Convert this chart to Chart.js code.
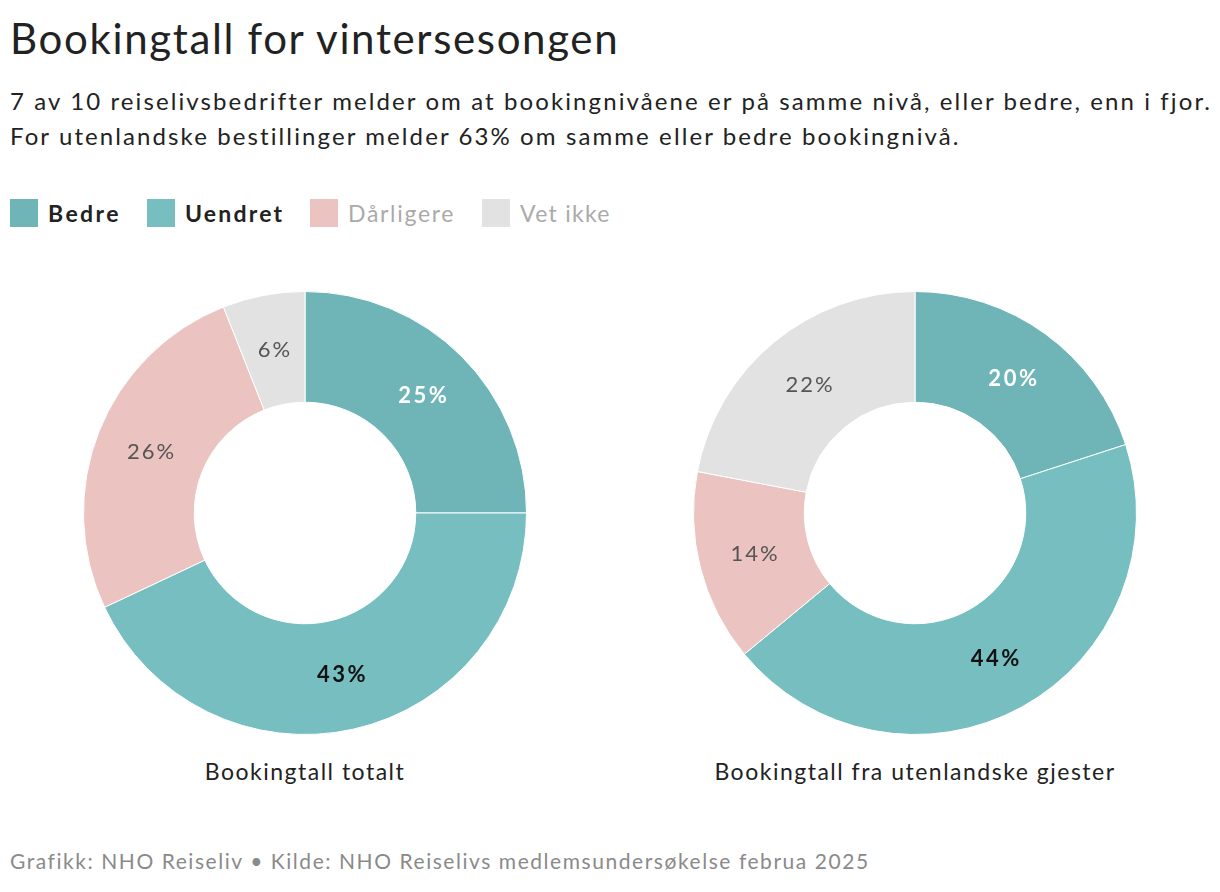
<!DOCTYPE html>
<html><head><meta charset="utf-8">
<script src="https://cdn.jsdelivr.net/npm/chart.js@4.4.1/dist/chart.umd.min.js"></script>
<style>
html,body{margin:0;padding:0;background:#fff;width:1220px;height:892px;overflow:hidden;font-family:Lato,"Open Sans",sans-serif;color:#222;}
#title{position:absolute;left:10px;top:13px;font-size:42px;letter-spacing:1.65px;font-weight:400;color:#222;white-space:nowrap;}
#sub{position:absolute;left:10px;top:83px;font-size:24px;letter-spacing:2.1px;line-height:35px;color:#222;white-space:nowrap;}
.li{position:absolute;top:199px;display:flex;align-items:center;font-size:23px;white-space:nowrap;height:28px;}
.sw{width:28px;height:28px;margin-right:10px;flex:none;}
.c{position:absolute;}
.lab{position:absolute;top:757px;font-size:23px;letter-spacing:1.5px;color:#222;text-align:center;width:610px;white-space:nowrap;}
#foot{position:absolute;left:10px;top:848px;font-size:21px;letter-spacing:1.55px;color:#8a8a8a;white-space:nowrap;}
</style></head>
<body>
<div id="title">Bookingtall for vintersesongen</div>
<div id="sub">7 av 10 reiselivsbedrifter melder om at bookingnivåene er på samme nivå, eller bedre, enn i fjor.<br>For utenlandske bestillinger melder 63% om samme eller bedre bookingnivå.</div>
<div id="legend"></div>
<div class="c" style="left:83px;top:291px;width:444px;height:444px;"><canvas id="c1" width="444" height="444"></canvas></div>
<div class="c" style="left:693px;top:291px;width:444px;height:444px;"><canvas id="c2" width="444" height="444"></canvas></div>
<div class="lab" style="left:0px;">Bookingtall totalt</div>
<div class="lab" style="left:610px;">Bookingtall fra utenlandske gjester</div>
<div id="foot">Grafikk: NHO Reiseliv • Kilde: NHO Reiselivs medlemsundersøkelse februa 2025</div>
<script>
const categories = ["Bedre", "Uendret", "Dårligere", "Vet ikke"];
const totalt = [25, 43, 26, 6];
const utenlandske = [20, 44, 14, 22];
const colors = ["#6fb5b7", "#77bec0", "#ebc4c1", "#e2e2e2"];
const legendTextColors = ["#222", "#222", "#aaa", "#aaa"];
const legendWeights = ["700", "700", "400", "400"];
const legendX = [10, 147, 310, 482];
const legendSpacing = ["2.4px", "2.2px", "1.7px", "1.3px"];
const labelColors = ["#ffffff", "#111111", "#555555", "#555555"];
const labelWeights = ["700", "700", "400", "400"];

const lg = document.getElementById('legend');
categories.forEach((c, i) => {
  const d = document.createElement('div'); d.className = 'li';
  d.style.left = legendX[i] + 'px';
  d.innerHTML = '<div class="sw" style="background:' + colors[i] + '"></div><span style="color:' + legendTextColors[i] + ';font-weight:' + legendWeights[i] + ';letter-spacing:' + legendSpacing[i] + '">' + c + '</span>';
  lg.appendChild(d);
});

const labelPlugin = {
  id: 'sliceLabels',
  afterDatasetsDraw(chart) {
    const ctx = chart.ctx;
    const meta = chart.getDatasetMeta(0);
    const data = chart.data.datasets[0].data;
    meta.data.forEach((arc, i) => {
      const p = arc.tooltipPosition();
      ctx.save();
      ctx.font = labelWeights[i] + ' 22px Lato, "Open Sans", sans-serif';
      const ls = labelWeights[i] === '700' ? 2.5 : 2;
      ctx.letterSpacing = ls + 'px';
      ctx.fillStyle = labelColors[i];
      ctx.textAlign = 'center';
      ctx.textBaseline = 'middle';
      ctx.fillText(data[i] + '%', p.x + ls / 2, p.y);
      ctx.restore();
    });
  }
};

function make(id, values) {
  new Chart(document.getElementById(id), {
    type: 'doughnut',
    data: { labels: categories, datasets: [{ data: values, backgroundColor: colors, borderColor: '#ffffff', borderWidth: 1, hoverOffset: 0 }] },
    options: {
      responsive: false, animation: false, cutout: '50%',
      layout: { padding: 0 },
      plugins: { legend: { display: false }, tooltip: { enabled: false } }
    },
    plugins: [labelPlugin]
  });
}
make('c1', totalt);
make('c2', utenlandske);
</script>
</body></html>
